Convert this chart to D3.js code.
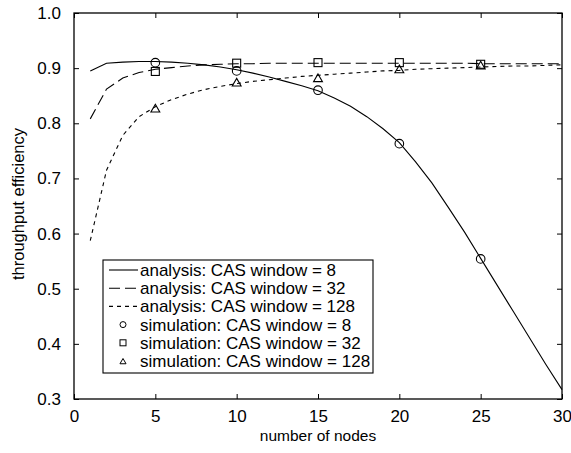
<!DOCTYPE html>
<html>
<head>
<meta charset="utf-8">
<script src="https://cdn.jsdelivr.net/npm/d3@7"></script>
<style>
  body { margin: 0; background: #fff; }
  svg { font-family: "Liberation Sans", Arial, Helvetica, sans-serif; }
</style>
</head>
<body>
<div class="chart"></div>
<script>
var nodes = d3.range(1, 31);

// analysis curves, one value per node count 1..30
var analysis8 = [0.895, 0.909, 0.911, 0.912, 0.912, 0.911, 0.909, 0.906, 0.902, 0.897,
                 0.891, 0.884, 0.876, 0.868, 0.859, 0.846, 0.831, 0.812, 0.790, 0.765,
                 0.730, 0.692, 0.648, 0.603, 0.555, 0.507, 0.459, 0.411, 0.363, 0.317];
var analysis32 = [0.808, 0.862, 0.882, 0.892, 0.898, 0.901, 0.904, 0.906, 0.907, 0.908,
                  0.908, 0.909, 0.909, 0.909, 0.909, 0.909, 0.909, 0.909, 0.909, 0.909,
                  0.909, 0.909, 0.909, 0.909, 0.908, 0.908, 0.908, 0.908, 0.908, 0.908];
var analysis128 = [0.587, 0.715, 0.778, 0.812, 0.830, 0.843, 0.853, 0.861, 0.867, 0.872,
                   0.876, 0.879, 0.882, 0.885, 0.887, 0.889, 0.891, 0.893, 0.895, 0.896,
                   0.898, 0.899, 0.900, 0.901, 0.902, 0.903, 0.904, 0.904, 0.905, 0.906];

// simulation points
var simNodes = [5, 10, 15, 20, 25];
var sim8 = [0.910, 0.895, 0.860, 0.763, 0.554];
var sim32 = [0.894, 0.909, 0.910, 0.910, 0.907];
var sim128 = [0.827, 0.874, 0.882, 0.898, 0.905];

var xTicks = [0, 5, 10, 15, 20, 25, 30];
var yTicks = [0.3, 0.4, 0.5, 0.6, 0.7, 0.8, 0.9, 1.0];

var legendLabels = ["analysis: CAS window = 8", "analysis: CAS window = 32", "analysis: CAS window = 128",
                    "simulation: CAS window = 8", "simulation: CAS window = 32", "simulation: CAS window = 128"];

var width = 571, height = 453;
var margin = { top: 13, right: 9, bottom: 54, left: 74 };
var w = width - margin.left - margin.right;
var h = height - margin.top - margin.bottom;

var x = d3.scaleLinear().domain([0, 30]).range([0, w]);
var y = d3.scaleLinear().domain([0.3, 1.0]).range([h, 0]);

var svg = d3.select(".chart").append("svg")
    .attr("width", width)
    .attr("height", height)
    .append("g")
    .attr("transform", "translate(" + margin.left + "," + margin.top + ")");

// axes, ticks inward on all four sides
svg.append("g")
    .attr("transform", "translate(0," + h + ")")
    .call(d3.axisBottom(x).tickValues(xTicks).tickSize(-5).tickPadding(11).tickFormat(d3.format("d")))
    .call(g => g.select(".domain").remove())
    .selectAll("text").attr("font-size", "17px").attr("fill", "#000");
svg.append("g")
    .call(d3.axisTop(x).tickValues(xTicks).tickSize(-5).tickFormat(""))
    .call(g => g.select(".domain").remove());
svg.append("g")
    .call(d3.axisLeft(y).tickValues(yTicks).tickSize(-5).tickPadding(13).tickFormat(d3.format(".1f")))
    .call(g => g.select(".domain").remove())
    .selectAll("text").attr("font-size", "17px").attr("fill", "#000");
svg.append("g")
    .attr("transform", "translate(" + w + ",0)")
    .call(d3.axisRight(y).tickValues(yTicks).tickSize(-5).tickFormat(""))
    .call(g => g.select(".domain").remove());

svg.append("rect")
    .attr("width", w)
    .attr("height", h)
    .attr("fill", "none")
    .attr("stroke", "#000")
    .attr("stroke-width", 1.3);

// axis labels
svg.append("text")
    .attr("x", w / 2)
    .attr("y", h + 42)
    .attr("text-anchor", "middle")
    .attr("font-size", "15.5px")
    .text("number of nodes");
svg.append("text")
    .attr("transform", "translate(" + (-50) + "," + (h / 2 - 2) + ") rotate(-90)")
    .attr("text-anchor", "middle")
    .attr("font-size", "16.5px")
    .text("throughput efficiency");

var line = d3.line()
    .x((d, i) => x(nodes[i]))
    .y(d => y(d));

var series = [
    { values: analysis8, dash: null },
    { values: analysis32, dash: "11,5" },
    { values: analysis128, dash: "4,4" }
];

svg.selectAll(".curve")
    .data(series)
    .enter().append("path")
    .attr("class", "curve")
    .attr("d", d => line(d.values))
    .attr("fill", "none")
    .attr("stroke", "#000")
    .attr("stroke-width", 1.1)
    .attr("stroke-dasharray", d => d.dash);

// markers
var tri = d3.symbol().type(d3.symbolTriangle).size(34);

svg.selectAll(".sim8")
    .data(sim8)
    .enter().append("circle")
    .attr("cx", (d, i) => x(simNodes[i]))
    .attr("cy", d => y(d))
    .attr("r", 4.3)
    .attr("fill", "none")
    .attr("stroke", "#000")
    .attr("stroke-width", 1.1);

svg.selectAll(".sim32")
    .data(sim32)
    .enter().append("rect")
    .attr("x", (d, i) => x(simNodes[i]) - 4)
    .attr("y", d => y(d) - 4)
    .attr("width", 8)
    .attr("height", 8)
    .attr("fill", "none")
    .attr("stroke", "#000")
    .attr("stroke-width", 1.1);

svg.selectAll(".sim128")
    .data(sim128)
    .enter().append("path")
    .attr("d", tri)
    .attr("transform", (d, i) => "translate(" + x(simNodes[i]) + "," + (y(d) + 1) + ")")
    .attr("fill", "none")
    .attr("stroke", "#000")
    .attr("stroke-width", 1.1);

// legend
var lg = svg.append("g")
    .attr("transform", "translate(" + (103 - margin.left) + "," + (260 - margin.top) + ")");
lg.append("rect")
    .attr("width", 270)
    .attr("height", 113)
    .attr("fill", "#fff")
    .attr("stroke", "#000")
    .attr("stroke-width", 1.1);

var rowH = 18.2;
var rows = lg.selectAll(".row")
    .data(legendLabels)
    .enter().append("g")
    .attr("transform", (d, i) => "translate(0," + (10 + i * rowH) + ")");

rows.append("text")
    .attr("x", 37)
    .attr("y", 6)
    .attr("font-size", "17px")
    .text(d => d);

rows.filter((d, i) => i < 3).append("line")
    .attr("x1", 6)
    .attr("x2", 35)
    .attr("stroke", "#000")
    .attr("stroke-width", 1.1)
    .attr("stroke-dasharray", (d, i) => series[i].dash);

rows.filter((d, i) => i === 3).append("circle")
    .attr("cx", 20).attr("r", 3)
    .attr("fill", "none").attr("stroke", "#000");
rows.filter((d, i) => i === 4).append("rect")
    .attr("x", 17).attr("y", -3).attr("width", 6).attr("height", 6)
    .attr("fill", "none").attr("stroke", "#000");
rows.filter((d, i) => i === 5).append("path")
    .attr("d", d3.symbol().type(d3.symbolTriangle).size(16))
    .attr("transform", "translate(20,1)")
    .attr("fill", "none").attr("stroke", "#000");
</script>
</body>
</html>
